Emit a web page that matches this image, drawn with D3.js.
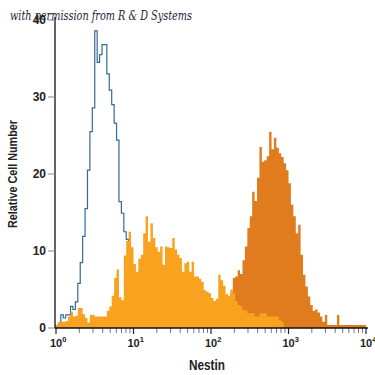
<!DOCTYPE html>
<html><head><meta charset="utf-8">
<script src="https://cdn.jsdelivr.net/npm/d3@7"></script>
<style>
html,body{margin:0;padding:0;background:#fff;}
svg{display:block;}
</style></head>
<body>
<svg id="chart" width="375" height="375"></svg>
<script>
// ---- data ----
const binsPerDecade = 32;           // histogram channels per decade (log scale)
const xTickExponents = [0, 1, 2, 3, 4];
const yTicks = [0, 10, 20, 30, 40];

// isotype control (blue outline), starts at bin 0
const isotypeStart = 0;
const isotypeCounts = [0.3,0.5,1.7,1.3,1.7,1.7,2.8,2.4,3.4,5.8,8.5,11.9,15.5,20.5,25.5,28.6,38.6,34.5,35.5,36.8,36.8,33,30.9,29,26.6,24.4,16.4,14.9,12.5,11.5,9,7,5,3.5,2.5,1.5,1,0.5];

// light orange (broad) population, starts at bin 0
const lightStart = 0;
const lightCounts = [0.4,0.8,0.8,0.8,0.9,1.5,2.1,1.5,1.6,2.6,2.6,1.8,1.3,0.7,1.7,1.7,1.5,1.5,1.5,1.5,1.5,2.2,2.8,4.2,6.5,7.6,4.0,3.6,9.4,11.3,12.5,10.5,8.3,7.3,9.0,9.5,12.3,14.5,11.2,13.6,11.7,10.5,9.9,10.6,8.2,10.6,10.5,10.4,11.7,10.2,9.5,9.1,7.3,8.4,8.6,7.3,8.6,6.7,6.7,6.4,6.0,4.9,4.7,4.5,3.9,3.5,3.8,6.9,6.2,5.5,4.4,4.2,5.0,4.5,3.5,3,2.8,2.3,2.3,1.9,1.9,1.9,1.5,1.5,1.9,1.9,1.9,1.5,1.5,1.5,1.5,1.5,1.0,0.8];

// dark orange (Nestin-high) population, starts at bin 71
const darkStart = 71;
const darkCounts = [3,4.5,6.5,6.7,7.5,7.0,8.8,10.6,13,14.5,17.7,16.5,19.5,23.5,21.6,21.8,22.3,25.5,23.2,24.7,23.4,22.7,22.2,21.4,20.5,18.8,16,14.5,12.3,13.4,9.5,6.9,5.4,4.1,3,2.2,2.4,2,1.5,0.8,1.7,0.4,0.4,0.4,0.4,1.7,0.4,0.4,0.4,0.4,0.4,0.4,0.4,0.4,0.4,0.4,0.4];

// ---- layout ----
const svg = d3.select("#chart");
const x = d3.scaleLog().domain([1, 10000]).range([56, 366]);
const y = d3.scaleLinear().domain([0, 40]).range([328, 20]);

const sans = "'Liberation Sans',Arial,sans-serif";

function toPoints(start, counts) {
  const pts = counts.map((c, i) => ({v: Math.pow(10, (start + i) / binsPerDecade), c}));
  pts.push({v: Math.pow(10, (start + counts.length) / binsPerDecade), c: counts[counts.length - 1]});
  return pts;
}

const area = d3.area().curve(d3.curveStepAfter)
  .x(d => x(d.v)).y0(y(0)).y1(d => y(d.c));

// blue isotype outline
const isoPts = toPoints(isotypeStart, isotypeCounts);
const linePts = [{v: isoPts[0].v, c: 0}].concat(isoPts.slice(0, -1));
linePts.push({v: isoPts[isoPts.length - 1].v, c: isotypeCounts[isotypeCounts.length - 1]});
linePts.push({v: isoPts[isoPts.length - 1].v, c: 0});
const line = d3.line().curve(d3.curveStepAfter).x(d => x(d.v)).y(d => y(d.c));
svg.append("path").attr("d", line(linePts))
  .attr("fill", "none").attr("stroke", "#336b98").attr("stroke-width", 1.2);

// dark orange
svg.append("path").attr("d", area(toPoints(darkStart, darkCounts)))
  .attr("fill", "#e07c1d");
// light orange
svg.append("path").attr("d", area(toPoints(lightStart, lightCounts)))
  .attr("fill", "#f8a220");

// ---- axes ----
const xAxisG = svg.append("g").attr("transform", "translate(0,328)");
const minorVals = [];
xTickExponents.slice(0, -1).forEach(e => { for (let m = 2; m <= 9; m++) minorVals.push(m * Math.pow(10, e)); });
xAxisG.selectAll("line.minor").data(minorVals).enter().append("line")
  .attr("x1", d => x(d)).attr("x2", d => x(d)).attr("y1", 0).attr("y2", 5)
  .attr("stroke", "#777").attr("stroke-width", 1);
xAxisG.selectAll("line.major").data(xTickExponents).enter().append("line")
  .attr("x1", d => x(Math.pow(10, d))).attr("x2", d => x(Math.pow(10, d))).attr("y1", 0).attr("y2", 6)
  .attr("stroke", "#222").attr("stroke-width", 1.2);
xAxisG.append("line").attr("x1", 55).attr("x2", 368).attr("y1", 0).attr("y2", 0)
  .attr("stroke", "#111").attr("stroke-width", 1.3);
const xl = xAxisG.selectAll("text.tl").data(xTickExponents).enter().append("text")
  .attr("x", d => x(Math.pow(10, d)) - 6).attr("y", 19)
  .attr("text-anchor", "start").attr("font-family", sans).attr("font-weight", "bold")
  .attr("font-size", 11).attr("fill", "#222");
xl.append("tspan").text("10");
xl.append("tspan").attr("dy", -5).attr("font-size", 7.5).text(d => d);

svg.append("text").attr("x", 207).attr("y", 370).attr("text-anchor", "middle")
  .attr("font-family", sans).attr("font-weight", "bold").attr("font-size", 15.5)
  .attr("textLength", 36).attr("lengthAdjust", "spacingAndGlyphs")
  .attr("fill", "#222").text("Nestin");

const yAxisG = svg.append("g");
yAxisG.append("line").attr("x1", 55).attr("x2", 55).attr("y1", 17).attr("y2", 328)
  .attr("stroke", "#111").attr("stroke-width", 1.3);
yAxisG.selectAll("line.yt").data(yTicks).enter().append("line")
  .attr("x1", 48).attr("x2", 55).attr("y1", d => y(d)).attr("y2", d => y(d))
  .attr("stroke", "#888").attr("stroke-width", 1);
yAxisG.selectAll("text.yl").data(yTicks).enter().append("text")
  .attr("x", 46).attr("y", d => y(d) + 4).attr("text-anchor", "end")
  .attr("font-family", sans).attr("font-weight", "bold").attr("font-size", 12)
  .attr("fill", "#222").text(d => d);

svg.append("text").attr("transform", "translate(17,174) rotate(-90)")
  .attr("text-anchor", "middle").attr("font-family", sans).attr("font-weight", "bold")
  .attr("font-size", 13.5).attr("textLength", 108).attr("lengthAdjust", "spacingAndGlyphs")
  .attr("fill", "#222").text("Relative Cell Number");

// watermark
svg.append("text").attr("x", 10).attr("y", 20)
  .attr("font-family", "'DejaVu Serif','Liberation Serif',serif").attr("font-style", "italic")
  .attr("font-size", 12.5).attr("fill", "#1e1e3a")
  .attr("textLength", 182).attr("lengthAdjust", "spacingAndGlyphs")
  .text("with permission from R & D Systems");
</script>
</body></html>
